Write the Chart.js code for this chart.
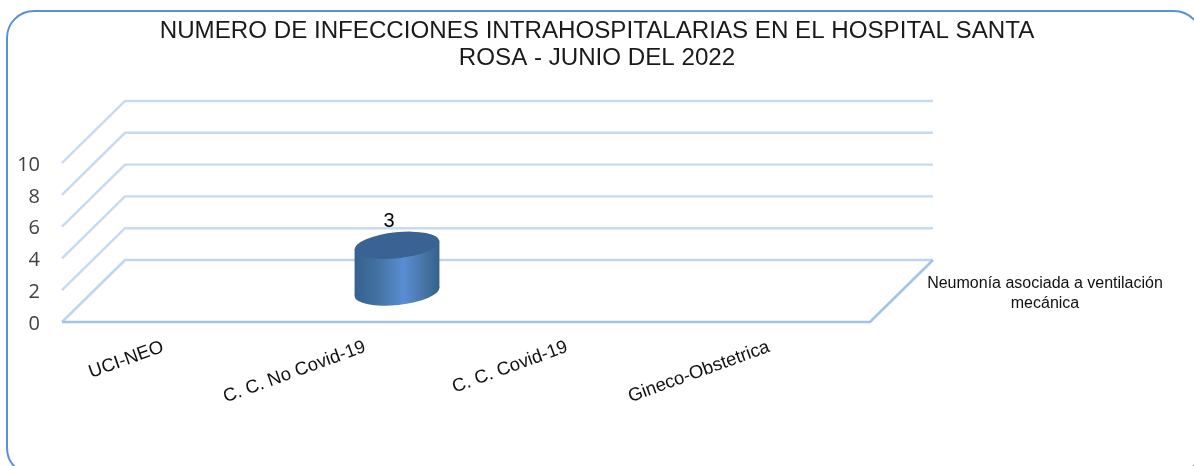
<!DOCTYPE html>
<html>
<head>
<meta charset="utf-8">
<style>html,body{margin:0;padding:0;background:#fff;overflow:hidden}canvas{display:block}</style>
<script src="https://cdn.jsdelivr.net/npm/chart.js@4"></script>
</head>
<body>
<div style="width:1194px;height:466px;position:relative"><canvas id="c" width="1194" height="466"></canvas></div>
<script>
const titleLines = ["NUMERO DE INFECCIONES INTRAHOSPITALARIAS EN EL HOSPITAL SANTA", "ROSA - JUNIO DEL 2022"];
const categories = ["UCI-NEO", "C. C. No Covid-19", "C. C. Covid-19", "Gineco-Obstetrica"];
const seriesName = "Neumonía asociada a ventilación mecánica";
const legendLines = ["Neumonía asociada a ventilación", "mecánica"];
const seriesValues = [0, 3, 0, 0];
const yTicks = [0, 2, 4, 6, 8, 10];

const DX = 63, DY = 62;

const frame = {
  id: 'frame',
  beforeDraw(chart) {
    const c = chart.ctx;
    c.save();
    c.fillStyle = '#fff';
    c.fillRect(0, 0, chart.width, chart.height);
    c.strokeStyle = '#5b8fd6';
    c.lineWidth = 2;
    c.beginPath();
    c.roundRect(7, 11, 1194, 464, 27);
    c.stroke();
    c.restore();
  }
};

const walls = {
  id: 'walls',
  beforeDatasetsDraw(chart) {
    const c = chart.ctx, y = chart.scales.y, a = chart.chartArea;
    c.save();
    c.lineJoin = 'miter';
    yTicks.forEach(v => {
      const py = y.getPixelForValue(v);
      if (v === 0) return;
      c.strokeStyle = '#c6daf2';
      c.lineWidth = 2.4;
      c.beginPath();
      c.moveTo(a.left, py);
      c.lineTo(a.left + DX, py - DY);
      c.lineTo(a.right + DX, py - DY);
      c.stroke();
    });
    const y0 = y.getPixelForValue(0);
    c.strokeStyle = '#c0d6f0';
    c.lineWidth = 2.6;
    c.beginPath();
    c.moveTo(a.left, y0);
    c.lineTo(a.left + DX, y0 - DY);
    c.lineTo(a.right + DX, y0 - DY);
    c.stroke();
    c.strokeStyle = '#a3c3ea';
    c.beginPath();
    c.moveTo(a.left, y0);
    c.lineTo(a.right, y0);
    c.lineTo(a.right + DX, y0 - DY);
    c.stroke();
    c.restore();
  }
};

const cylinders = {
  id: 'cylinders',
  afterDatasetsDraw(chart) {
    const c = chart.ctx, meta = chart.getDatasetMeta(0);
    meta.data.forEach((bar, i) => {
      const v = seriesValues[i];
      if (!v) return;
      const cx = bar.x + 32, hw = bar.width / 2;
      const top = bar.y - 29, base = bar.base - 30;
      const th = -6 * Math.PI / 180;
      const ry = 13;
      const rx = Math.sqrt(Math.max(hw * hw - ry * ry * Math.sin(th) ** 2, 1)) / Math.abs(Math.cos(th));
      const ey = (rx * rx - ry * ry) * Math.sin(th) * Math.cos(th) / hw;
      c.save();
      const g = c.createLinearGradient(cx - hw, 0, cx + hw, 0);
      g.addColorStop(0, '#36608f');
      g.addColorStop(0.25, '#41709f');
      g.addColorStop(0.58, '#5a8ed3');
      g.addColorStop(0.85, '#44729f');
      g.addColorStop(1, '#35608f');
      c.fillStyle = g;
      c.beginPath();
      c.ellipse(cx, base, rx, ry, th, 0, Math.PI * 2);
      c.fill();
      c.beginPath();
      c.moveTo(cx - hw, top - ey);
      c.lineTo(cx + hw, top + ey);
      c.lineTo(cx + hw, base + ey);
      c.lineTo(cx - hw, base - ey);
      c.closePath();
      c.fill();
      c.fillStyle = '#3a6393';
      c.beginPath();
      c.ellipse(cx, top, rx, ry, th, 0, Math.PI * 2);
      c.fill();
      c.fillStyle = '#000';
      c.font = '20px "Liberation Sans"';
      c.textAlign = 'center';
      c.textBaseline = 'middle';
      c.fillText(String(v), cx - 8, top - 24);
      c.restore();
    });
  }
};

const legendText = {
  id: 'legendText',
  afterDraw(chart) {
    const c = chart.ctx;
    c.save();
    c.fillStyle = '#111';
    c.font = '16px "Liberation Sans"';
    c.textAlign = 'center';
    c.textBaseline = 'middle';
    legendLines.forEach((t, i) => c.fillText(t, 1045, 284 + i * 20));
    c.restore();
  }
};

new Chart(document.getElementById('c'), {
  type: 'bar',
  data: {
    labels: categories,
    datasets: [{
      label: seriesName,
      data: seriesValues,
      backgroundColor: 'rgba(0,0,0,0)',
      borderWidth: 0,
      barPercentage: 0.42,
      categoryPercentage: 1
    }]
  },
  plugins: [frame, walls, cylinders, legendText],
  options: {
    responsive: false,
    animation: false,
    layout: { padding: 0 },
    plugins: {
      legend: { display: false },
      tooltip: { enabled: false },
      title: {
        display: true,
        text: titleLines,
        color: '#1a1a1a',
        font: { family: '"Liberation Sans"', size: 24.15, weight: 'normal', lineHeight: 1.118 },
        padding: { top: 18, bottom: 91 }
      }
    },
    scales: {
      x: {
        grid: { display: false, drawTicks: false },
        border: { display: false },
        ticks: {
          maxRotation: 20, minRotation: 20, padding: 14, autoSkip: false,
          color: '#111',
          font: { family: '"Liberation Sans"', size: 18.5 }
        },
        afterFit(s) { s.height = 144; }
      },
      y: {
        min: 0, max: 10,
        grid: { display: false, drawTicks: false },
        border: { display: false },
        ticks: {
          stepSize: 2, padding: 22, labelOffset: 2,
          color: '#404040',
          font: { family: '"Open Sans"', size: 20 }
        },
        afterFit(s) { s.width = 62; }
      },
      side: {
        position: 'right',
        grid: { display: false, drawTicks: false },
        border: { display: false },
        ticks: { display: false },
        afterFit(s) { s.width = 324; }
      }
    }
  }
});
</script>
</body>
</html>
